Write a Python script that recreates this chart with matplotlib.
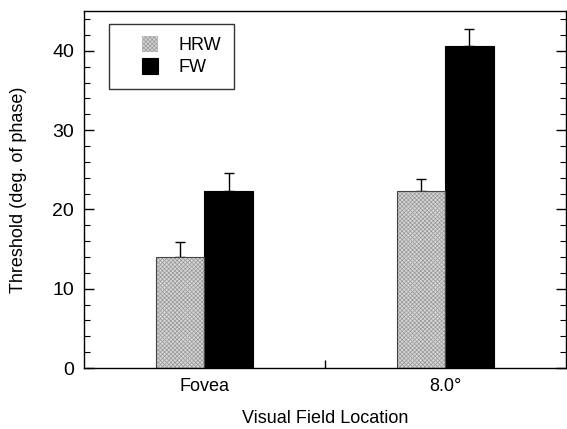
import matplotlib
matplotlib.use("Agg")
import matplotlib.pyplot as plt
import numpy as np
from matplotlib.ticker import MultipleLocator, FixedLocator
from matplotlib.patches import Rectangle
from matplotlib.legend_handler import HandlerPatch

categories = ["Fovea", "8.0°"]
series_names = ["HRW", "FW"]
hrw_values = [14.0, 22.3]
hrw_errors = [1.9, 1.6]
fw_values = [22.3, 40.6]
fw_errors = [2.3, 2.1]
y_ticks = [0, 10, 20, 30, 40]

plt.rcParams['font.family'] = ['Liberation Sans', 'DejaVu Sans']
plt.rcParams['hatch.linewidth'] = 0.5

fig = plt.figure(figsize=(5.67, 4.29), dpi=100)
ax = fig.add_axes([0.148, 0.142, 0.85, 0.832])

x = np.arange(len(categories))
w = 0.2
hrw_bars = ax.bar(x - w/2, hrw_values, width=w, color='#d4d4d4', edgecolor='#9a9a9a',
                  linewidth=0, hatch='xxxxxxxx', label=series_names[0], zorder=2)
ax.bar(x - w/2, hrw_values, width=w, fill=False, edgecolor='#444444',
       linewidth=0.8, zorder=2.1)
fw_bars = ax.bar(x + w/2, fw_values, width=w, color='black', edgecolor='black',
                 linewidth=0.8, label=series_names[1], zorder=2)
ax.errorbar(x - w/2, hrw_values, yerr=[np.zeros(2), hrw_errors], fmt='none',
            ecolor='black', elinewidth=1, capsize=3.5, capthick=1, zorder=1)
ax.errorbar(x + w/2, fw_values, yerr=[np.zeros(2), fw_errors], fmt='none',
            ecolor='black', elinewidth=1, capsize=3.5, capthick=1, zorder=1)

ax.set_xlim(-0.5, 1.5)
ax.set_ylim(0, 45)
ax.set_xticks(x)
ax.set_xticklabels(categories, fontsize=13)
ax.tick_params(axis='x', which='major', length=0, pad=7)
ax.xaxis.set_minor_locator(FixedLocator([0.5]))
ax.tick_params(axis='x', which='minor', direction='in', length=6, width=1)

ax.set_yticks(y_ticks)
ax.set_yticklabels([str(v) for v in y_ticks], fontsize=14)
ax.yaxis.set_minor_locator(MultipleLocator(2))
ax.tick_params(axis='y', which='major', direction='in', length=7, width=1,
               right=True, pad=7)
ax.tick_params(axis='y', which='minor', direction='in', length=4, width=0.8,
               right=True)

for s in ax.spines.values():
    s.set_linewidth(1)

ax.set_ylabel("Threshold (deg. of phase)", fontsize=13, labelpad=18)
ax.set_xlabel("Visual Field Location", fontsize=13, labelpad=11)


def right_square(legend, orig_handle, xdescent, ydescent, width, height, fontsize):
    s = height
    return Rectangle((-xdescent + width - s, -ydescent), s, s)


handler = HandlerPatch(patch_func=right_square)
leg = ax.legend(handles=[hrw_bars[0], fw_bars[0]], labels=series_names,
                loc='upper left', bbox_to_anchor=(0.052, 0.965), fontsize=13,
                frameon=True, fancybox=False, edgecolor='black',
                handlelength=2.0, handleheight=0.95, borderpad=0.7,
                handletextpad=1.15, labelspacing=0.22, borderaxespad=0,
                handler_map={Rectangle: handler})
leg.get_frame().set_linewidth(1)

fig.savefig("out.png", dpi=100)
